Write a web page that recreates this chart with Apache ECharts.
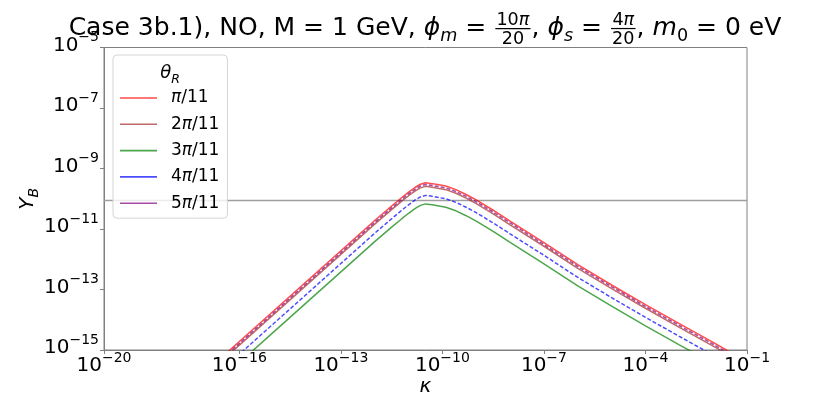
<!DOCTYPE html>
<html>
<head>
<meta charset="utf-8">
<title>Case 3b.1) Y_B vs kappa</title>
<script src="https://cdn.jsdelivr.net/npm/echarts@6/dist/echarts.min.js"></script>
<style>
html, body { margin: 0; padding: 0; background: #fff; }
#chart { width: 831px; height: 394px; }
</style>
</head>
<body>
<div id="chart"></div>
<script>
// kappa grid (x)
var kappa = [1e-17, 3.16e-17, 1e-16, 1e-15, 1e-14, 1e-13, 1e-12, 3.16e-12, 6.31e-12, 1e-11,
  1.58e-11, 2.24e-11, 3.16e-11, 5.01e-11, 7.94e-11, 1.26e-10, 2.51e-10, 5.01e-10, 1e-9, 3.16e-9,
  1e-8, 1e-7, 1e-6, 1e-5, 1e-4, 1e-3, 1e-2, 3.16e-2, 1e-1];

// Y_B for each theta_R
var yPi1 = [1.91e-16, 6.03e-16, 1.91e-15, 1.91e-14, 1.91e-13, 1.91e-12, 1.91e-11, 5.75e-11, 1.10e-10, 1.66e-10,
  2.40e-10, 3.02e-10, 3.39e-10, 3.16e-10, 2.88e-10, 2.63e-10, 2.00e-10, 1.38e-10, 9.12e-11, 4.17e-11,
  1.82e-11, 3.55e-12, 6.61e-13, 1.41e-13, 3.16e-14, 7.41e-15, 1.78e-15, 8.51e-16, 4.17e-16];
var yPi2 = [1.45e-16, 4.58e-16, 1.45e-15, 1.45e-14, 1.45e-13, 1.45e-12, 1.45e-11, 4.36e-11, 8.35e-11, 1.26e-10,
  1.82e-10, 2.29e-10, 2.57e-10, 2.40e-10, 2.19e-10, 2.00e-10, 1.52e-10, 1.05e-10, 6.92e-11, 3.17e-11,
  1.38e-11, 2.69e-12, 5.02e-13, 1.07e-13, 2.40e-14, 5.62e-15, 1.35e-15, 6.46e-16, 3.17e-16];
var yPi3 = [3.81e-17, 1.20e-16, 3.81e-16, 3.81e-15, 3.81e-14, 3.81e-13, 3.81e-12, 1.15e-11, 2.19e-11, 3.31e-11,
  4.79e-11, 6.03e-11, 6.76e-11, 6.31e-11, 5.75e-11, 5.25e-11, 3.99e-11, 2.75e-11, 1.82e-11, 8.32e-12,
  3.63e-12, 7.08e-13, 1.32e-13, 2.81e-14, 6.30e-15, 1.48e-15, 3.55e-16, 1.70e-16, 8.32e-17];
var yPi4 = [7.26e-17, 2.29e-16, 7.26e-16, 7.26e-15, 7.26e-14, 7.26e-13, 7.26e-12, 2.19e-11, 4.18e-11, 6.31e-11,
  9.12e-11, 1.15e-10, 1.29e-10, 1.20e-10, 1.09e-10, 1.00e-10, 7.60e-11, 5.24e-11, 3.47e-11, 1.58e-11,
  6.92e-12, 1.35e-12, 2.51e-13, 5.36e-14, 1.20e-14, 2.82e-15, 6.76e-16, 3.23e-16, 1.58e-16];
var yPi5 = [1.66e-16, 5.25e-16, 1.66e-15, 1.66e-14, 1.66e-13, 1.66e-12, 1.66e-11, 5.01e-11, 9.58e-11, 1.45e-10,
  2.09e-10, 2.63e-10, 2.95e-10, 2.75e-10, 2.51e-10, 2.29e-10, 1.74e-10, 1.20e-10, 7.94e-11, 3.63e-11,
  1.59e-11, 3.09e-12, 5.76e-13, 1.23e-13, 2.75e-14, 6.45e-15, 1.55e-15, 7.41e-16, 3.63e-16];

var names = ['π/11', '2π/11', '3π/11', '4π/11', '5π/11'];
var xTicks = [1e-20, 1e-16, 1e-13, 1e-10, 1e-7, 1e-4, 1e-1];
var yTicks = [1e-15, 1e-13, 1e-11, 1e-9, 1e-7, 1e-5];
var xRange = [1e-20, 1e-1];
var yObserved = 8.7e-11;

var FAM = '"DejaVu Sans"';
var myChart = echarts.init(document.getElementById('chart'), null, { renderer: 'canvas' });

// --- small helper to lay out math-like text (title, legend title) ---
var mctx = document.createElement('canvas').getContext('2d');
function fontOf(size, italic) {
  return (italic ? 'italic ' : '') + size.toFixed(2) + 'px ' + FAM;
}
function textW(t, size, italic) {
  mctx.font = fontOf(size, italic);
  return mctx.measureText(t).width;
}
function runW(run, k) {
  var w = 0;
  run.forEach(function(p) { w += textW(p.t, p.s * k, p.it); });
  return w;
}
function pieceW(p, k) {
  if (p.num) return Math.max(runW(p.num, k), runW(p.den, k)) + 4 * k;
  return textW(p.t, p.s * k, p.it);
}
function txt(t, x, y, size, italic) {
  return {
    type: 'text', x: x, y: y, silent: true, z: 100,
    style: { text: t, font: fontOf(size, italic), fill: '#000',
      align: 'left', verticalAlign: 'middle', textAlign: 'left', textVerticalAlign: 'middle' }
  };
}
function runEls(run, x, base, k, els) {
  run.forEach(function(p) {
    var s = p.s * k;
    els.push(txt(p.t, x, base + (p.dy || 0) * k - 0.3 * s, s, p.it));
    x += textW(p.t, s, p.it);
  });
}
function layoutRow(parts, cx, base, k) {
  var total = 0;
  parts.forEach(function(p) { total += pieceW(p, k); });
  var x = cx - total / 2, els = [];
  parts.forEach(function(p) {
    var w = pieceW(p, k);
    if (p.num) {
      var bar = base - 7 * k;
      var nw = runW(p.num, k), dw = runW(p.den, k);
      runEls(p.num, x + (w - nw) / 2, bar - 3 * k, k, els);
      runEls(p.den, x + (w - dw) / 2, bar + 15 * k, k, els);
      els.push({ type: 'line', silent: true, z: 100,
        shape: { x1: x + k, y1: bar, x2: x + w - k, y2: bar },
        style: { stroke: '#000', lineWidth: 1.2 } });
    } else {
      runEls([p], x, base, k, els);
    }
    x += w;
  });
  return els;
}

var T = 23.5, S = 16.5;
var titleParts = [
  { t: 'Case 3b.1), NO, M = 1 GeV, ', s: T },
  { t: 'ϕ', s: T, it: true }, { t: 'm', s: S, it: true, dy: 5 },
  { t: ' = ', s: T },
  { num: [{ t: '10', s: S }, { t: 'π', s: S, it: true }], den: [{ t: '20', s: S }] },
  { t: ', ', s: T },
  { t: 'ϕ', s: T, it: true }, { t: 's', s: S, it: true, dy: 5 },
  { t: ' = ', s: T },
  { num: [{ t: '4', s: S }, { t: 'π', s: S, it: true }], den: [{ t: '20', s: S }] },
  { t: ', ', s: T },
  { t: 'm', s: T, it: true }, { t: '0', s: S, dy: 5 },
  { t: ' = 0 eV', s: T }
];
var rawW = 0;
titleParts.forEach(function(p) { rawW += pieceW(p, 1); });
var kTitle = 713 / rawW;
var graphics = layoutRow(titleParts, 425, 36, kTitle);
graphics = graphics.concat(layoutRow([
  { t: 'θ', s: 18, it: true }, { t: 'R', s: 12.5, it: true, dy: 4 }
], 170, 79, 1));

function powLabel(v) {
  var e = Math.round(Math.log10(v));
  return '{b|10}{s|' + (e < 0 ? '−' : '') + Math.abs(e) + '}';
}
var powRich = {
  b: { fontFamily: FAM, fontSize: 20, lineHeight: 20, color: '#000', verticalAlign: 'bottom' },
  s: { fontFamily: FAM, fontSize: 14, lineHeight: 14, color: '#000', verticalAlign: 'bottom', padding: [0, 0, 11, 0] }
};

function makeLine(name, vals, color, dashed, z) {
  return {
    name: name, type: 'line', symbol: 'none', clip: true, z: z,
    data: kappa.map(function(k, i) { return [k, vals[i]]; }),
    itemStyle: { color: color, opacity: 0.7 },
    lineStyle: { color: color, width: 1.5, opacity: 0.7, type: dashed ? [4, 2] : 'solid' }
  };
}

var series = [
  {
    name: 'observed', type: 'line', symbol: 'none', z: 1, silent: true,
    data: [[xRange[0], yObserved], [xRange[1], yObserved]],
    lineStyle: { color: '#9e9e9e', width: 1.5 }
  },
  makeLine(names[0], yPi1, '#ff0000', false, 2),
  makeLine(names[1], yPi2, '#a52a2a', false, 3),
  makeLine(names[2], yPi3, '#008000', false, 4),
  makeLine(names[3], yPi4, '#0000ff', true, 5),
  makeLine(names[4], yPi5, '#800080', true, 6)
];

var option = {
  animation: false,
  backgroundColor: '#fff',
  grid: {
    left: 104, right: 84, top: 47.5, bottom: 44, outerBoundsMode: 'none', containLabel: false,
    show: true, borderColor: '#808080', borderWidth: 1
  },
  xAxis: {
    type: 'log', logBase: 10, min: xRange[0], max: xRange[1],
    name: 'κ', nameLocation: 'middle', nameGap: 27, nameMoveOverlap: false,
    nameTextStyle: { fontFamily: FAM, fontSize: 20, fontStyle: 'italic', color: '#000' },
    axisLine: { show: true, lineStyle: { color: '#808080', width: 1 } },
    axisTick: { show: true, length: 4, lineStyle: { color: '#808080' }, customValues: xTicks },
    minorTick: { show: false },
    splitLine: { show: false },
    axisLabel: { margin: 6, customValues: xTicks, formatter: powLabel, rich: powRich }
  },
  yAxis: {
    type: 'log', logBase: 10, min: 1e-15, max: 1e-5,
    name: '{a|Y}{b|B}', nameLocation: 'middle', nameRotate: 90, nameGap: 66, nameMoveOverlap: false,
    nameTextStyle: {
      rich: {
        a: { fontFamily: FAM, fontSize: 20, lineHeight: 20, fontStyle: 'italic', color: '#000', verticalAlign: 'top' },
        b: { fontFamily: FAM, fontSize: 14, lineHeight: 14, fontStyle: 'italic', color: '#000', verticalAlign: 'top', padding: [9, 0, 0, 0] }
      }
    },
    axisLine: { show: true, lineStyle: { color: '#808080', width: 1 } },
    axisTick: { show: true, length: 4, lineStyle: { color: '#808080' }, customValues: yTicks },
    splitLine: { show: false },
    axisLabel: { margin: 5, padding: [0, 0, 4, 0], customValues: yTicks, formatter: powLabel, rich: powRich }
  },
  legend: {
    data: names, orient: 'vertical', left: 113, top: 55, padding: [30, 8, 2, 7],
    icon: 'rect', itemWidth: 37, itemHeight: 1.6, itemGap: 0.3, selectedMode: false,
    backgroundColor: 'rgba(255,255,255,0.8)', borderColor: '#d5d5d5', borderWidth: 1, borderRadius: 4,
    formatter: function(n) { return n.replace('π', '{i|π}'); },
    textStyle: {
      fontFamily: FAM, fontSize: 17, lineHeight: 26, color: '#000', padding: [0, 0, 0, 9],
      rich: { i: { fontFamily: FAM, fontSize: 17, lineHeight: 26, fontStyle: 'italic', color: '#000' } }
    }
  },
  graphic: graphics,
  series: series
};
myChart.setOption(option);
</script>
</body>
</html>
